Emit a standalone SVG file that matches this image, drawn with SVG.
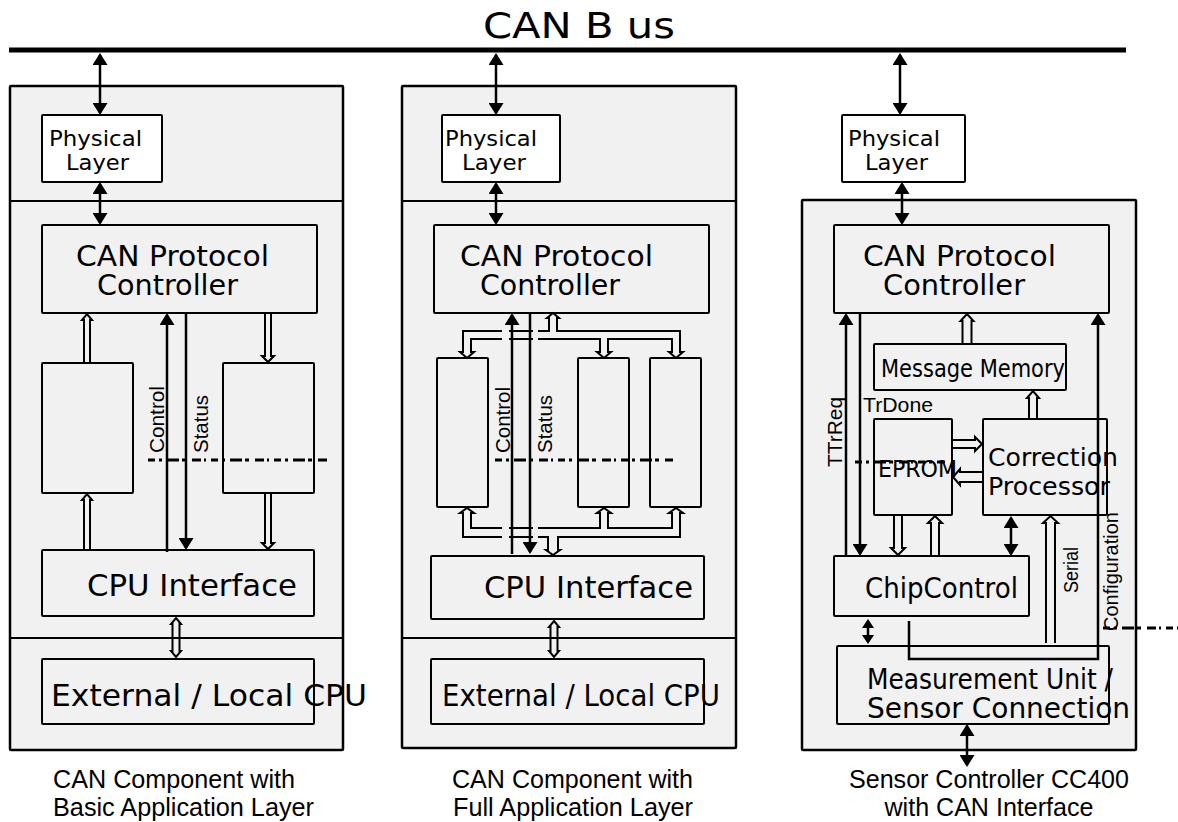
<svg xmlns="http://www.w3.org/2000/svg" width="1178" height="822" viewBox="0 0 1178 822">
<style>
.panel{fill:#f1f1f1;stroke:#000;stroke-width:2.5}
.box{fill:#f1f1f1;stroke:#000;stroke-width:2}
.wbox{fill:#fff;stroke:#000;stroke-width:2}
.div{stroke:#000;stroke-width:2;fill:none}
.t{font-family:"DejaVu Sans",Verdana,sans-serif;fill:#000}
.a{font-family:"Liberation Sans",Arial,sans-serif;fill:#000}
.ln{stroke:#000;stroke-width:2.5;fill:none}
.pipe{stroke:#000;stroke-width:2;fill:none}
.gar{stroke:#000;stroke-width:3;fill:none;stroke-dasharray:7 4 3 5 12 3 4 6 9 3 2 5}
</style>
<defs>
<marker id="ah" viewBox="0 0 12 15" refX="10" refY="7.5" markerWidth="12" markerHeight="15" markerUnits="userSpaceOnUse" orient="auto-start-reverse"><path d="M0,0 L12,7.5 L0,15 z" fill="#000"/></marker>
<marker id="ahs" viewBox="0 0 9 12" refX="7" refY="6" markerWidth="9" markerHeight="12" markerUnits="userSpaceOnUse" orient="auto-start-reverse"><path d="M0,0 L9,6 L0,12 z" fill="#000"/></marker>
</defs>
<rect width="1178" height="822" fill="#fff"/>

<g id="bus">
<line x1="9" y1="50" x2="1126" y2="50" stroke="#000" stroke-width="5"/>
<text class="t" x="483" y="38" font-size="35" textLength="192" lengthAdjust="spacingAndGlyphs">CAN B us</text>
</g>

<!-- Panel 1 -->
<g id="panel1">
<rect class="panel" x="10" y="86" width="333" height="664" rx="1"/>
<line class="div" x1="10" y1="201" x2="342" y2="201"/>
<line class="div" x1="10" y1="638" x2="342" y2="638"/>
</g>
<g id="p1-phys"><rect class="wbox" x="42" y="115" width="120" height="67" rx="1"/>
<text class="t" x="49" y="146" font-size="22" textLength="93" lengthAdjust="spacingAndGlyphs">Physical</text>
<text class="t" x="66" y="170" font-size="22" textLength="63" lengthAdjust="spacingAndGlyphs">Layer</text></g>
<g id="p1-canpc"><rect class="box" x="42" y="225" width="275" height="88" rx="1"/>
<text class="t" x="76" y="266" font-size="29" textLength="193" lengthAdjust="spacingAndGlyphs">CAN Protocol</text>
<text class="t" x="97" y="295" font-size="29" textLength="141" lengthAdjust="spacingAndGlyphs">Controller</text></g>
<g id="p1-buf1"><rect class="box" x="42" y="363" width="91" height="130" rx="1"/></g>
<g id="p1-buf2"><rect class="box" x="223" y="363" width="91" height="130" rx="1"/></g>
<g id="p1-cpuif"><rect class="box" x="42" y="550" width="272" height="66" rx="1"/>
<text class="t" x="87" y="596" font-size="30" textLength="210" lengthAdjust="spacingAndGlyphs">CPU Interface</text></g>
<g id="p1-ext"><rect class="box" x="42" y="659" width="272" height="65" rx="1"/>
<text class="t" x="51" y="706" font-size="31" textLength="316" lengthAdjust="spacingAndGlyphs">External / Local CPU</text></g>
<g id="p1-caption">
<text class="a" x="53" y="788" font-size="25" textLength="242" lengthAdjust="spacingAndGlyphs">CAN Component with</text>
<text class="a" x="53" y="816" font-size="25" textLength="261" lengthAdjust="spacingAndGlyphs">Basic Application Layer</text></g>

<!-- Panel 2 -->
<g id="panel2">
<rect class="panel" x="402" y="86" width="334" height="662" rx="1"/>
<line class="div" x1="402" y1="201" x2="736" y2="201"/>
<line class="div" x1="402" y1="638" x2="736" y2="638"/>
</g>
<g id="p2-phys"><rect class="wbox" x="442" y="115" width="118" height="67" rx="1"/>
<text class="t" x="445" y="146" font-size="22" textLength="92" lengthAdjust="spacingAndGlyphs">Physical</text>
<text class="t" x="462" y="170" font-size="22" textLength="64" lengthAdjust="spacingAndGlyphs">Layer</text></g>
<g id="p2-canpc"><rect class="box" x="434" y="225" width="275" height="88" rx="1"/>
<text class="t" x="460" y="266" font-size="29" textLength="193" lengthAdjust="spacingAndGlyphs">CAN Protocol</text>
<text class="t" x="480" y="295" font-size="29" textLength="140" lengthAdjust="spacingAndGlyphs">Controller</text></g>
<g id="p2-buf1"><rect class="box" x="437" y="358" width="51" height="149" rx="1"/></g>
<g id="p2-buf2"><rect class="box" x="578" y="358" width="51" height="149" rx="1"/></g>
<g id="p2-buf3"><rect class="box" x="650" y="358" width="51" height="149" rx="1"/></g>
<g id="p2-cpuif"><rect class="box" x="431" y="556" width="273" height="63" rx="1"/>
<text class="t" x="484" y="598" font-size="30" textLength="209" lengthAdjust="spacingAndGlyphs">CPU Interface</text></g>
<g id="p2-ext"><rect class="box" x="431" y="659" width="273" height="65" rx="1"/>
<text class="t" x="442" y="706" font-size="31" textLength="278" lengthAdjust="spacingAndGlyphs">External / Local CPU</text></g>
<g id="p2-caption">
<text class="a" x="452" y="788" font-size="25" textLength="241" lengthAdjust="spacingAndGlyphs">CAN Component with</text>
<text class="a" x="453" y="816" font-size="25" textLength="240" lengthAdjust="spacingAndGlyphs">Full Application Layer</text></g>

<!-- Panel 3 -->
<g id="panel3">
<rect class="panel" x="802" y="200" width="334" height="550" rx="1"/>
</g>
<g id="p3-phys"><rect class="wbox" x="842" y="115" width="123" height="67" rx="1"/>
<text class="t" x="848" y="146" font-size="22" textLength="92" lengthAdjust="spacingAndGlyphs">Physical</text>
<text class="t" x="865" y="170" font-size="22" textLength="63" lengthAdjust="spacingAndGlyphs">Layer</text></g>
<g id="p3-canpc"><rect class="box" x="834" y="225" width="275" height="88" rx="1"/>
<text class="t" x="863" y="266" font-size="29" textLength="193" lengthAdjust="spacingAndGlyphs">CAN Protocol</text>
<text class="t" x="883" y="295" font-size="29" textLength="142" lengthAdjust="spacingAndGlyphs">Controller</text></g>
<g id="p3-msgmem"><rect class="box" x="874" y="344" width="192" height="46" rx="1"/>
<text class="t" x="881" y="377" font-size="24" textLength="184" lengthAdjust="spacingAndGlyphs">Message Memory</text></g>
<g id="p3-eprom"><rect class="box" x="874" y="419" width="78" height="96" rx="1"/>
<text class="t" x="878" y="477" font-size="23" textLength="79" lengthAdjust="spacingAndGlyphs">EPROM</text></g>
<g id="p3-corr"><rect class="box" x="983" y="419" width="124" height="96" rx="1"/>
<text class="t" x="988" y="466" font-size="25" textLength="130" lengthAdjust="spacingAndGlyphs">Correction</text>
<text class="t" x="988" y="495" font-size="25" textLength="122" lengthAdjust="spacingAndGlyphs">Processor</text></g>
<g id="p3-chip"><rect class="box" x="834" y="556" width="195" height="60" rx="1"/>
<text class="t" x="865" y="598" font-size="29" textLength="153" lengthAdjust="spacingAndGlyphs">ChipControl</text></g>
<g id="p3-meas"><rect class="box" x="837" y="646" width="272" height="78" rx="1"/>
<text class="t" x="867" y="689" font-size="28" textLength="246" lengthAdjust="spacingAndGlyphs">Measurement Unit /</text>
<text class="t" x="867" y="718" font-size="28" textLength="263" lengthAdjust="spacingAndGlyphs">Sensor Connection</text></g>
<g id="p3-caption">
<text class="a" x="989" y="788" font-size="25" text-anchor="middle" textLength="280" lengthAdjust="spacingAndGlyphs">Sensor Controller CC400</text>
<text class="a" x="989" y="816" font-size="25" text-anchor="middle" textLength="209" lengthAdjust="spacingAndGlyphs">with CAN Interface</text></g>

<g id="connectors">
<!-- panel 1 -->
<line class="ln" x1="100" y1="55" x2="100" y2="113" marker-start="url(#ah)" marker-end="url(#ah)"/>
<line class="ln" x1="100" y1="184" x2="100" y2="223" marker-start="url(#ah)" marker-end="url(#ah)"/>
<line class="ln" x1="167" y1="552" x2="167" y2="315" marker-end="url(#ah)"/>
<line class="ln" x1="186" y1="313" x2="186" y2="548" marker-end="url(#ah)"/>
<path class="pipe" d="M84,363 V320 H82 L87,314 L92,320 H90 V363"/>
<path class="pipe" d="M84,550 V500 H82 L87,494 L92,500 H90 V550"/>
<path class="pipe" d="M265,313 V356 H262 L268,362 L274,356 H271 V313"/>
<path class="pipe" d="M265,493 V543 H262 L268,549 L274,543 H271 V493"/>
<path class="pipe" d="M176,618 L181,624 H179.5 V651 H181 L176,657 L171,651 H172.5 V624 H171 Z"/>
<path class="gar" d="M148,460 H330"/>
<text class="a" transform="translate(164,453) rotate(-90)" font-size="20" textLength="67" lengthAdjust="spacingAndGlyphs">Control</text>
<text class="a" transform="translate(208,453) rotate(-90)" font-size="20" textLength="58" lengthAdjust="spacingAndGlyphs">Status</text>

<!-- panel 2 -->
<line class="ln" x1="496" y1="55" x2="496" y2="113" marker-start="url(#ah)" marker-end="url(#ah)"/>
<line class="ln" x1="496" y1="184" x2="496" y2="223" marker-start="url(#ah)" marker-end="url(#ah)"/>
<line class="ln" x1="512" y1="554" x2="512" y2="315" marker-end="url(#ah)"/>
<line class="ln" x1="530" y1="313" x2="530" y2="552" marker-end="url(#ah)"/>
<path class="pipe" d="M502,339 H471 V352 H474 L467,358 L460,352 H463 V331 H502"/>
<path class="pipe" d="M509,331 H533 M509,339 H533"/>
<path class="pipe" d="M538,331 H549 V318 H547 L553,313 L559,318 H557 V331 H680 V352 H683 L676,358 L669,352 H672 V339 H608 V352 H611 L604,358 L597,352 H600 V339 H538"/>
<path class="pipe" d="M502,537 H463 V513 H460 L467,508 L474,513 H471 V528 H502"/>
<path class="pipe" d="M509,528 H533 M509,537 H533"/>
<path class="pipe" d="M538,528 H600 V513 H597 L604,508 L611,513 H608 V528 H672 V513 H669 L676,508 L683,513 H680 V537 H558 V550 H560 L553,555 L546,550 H548 V537 H538"/>
<path class="pipe" d="M554,621 L559,627 H557.5 V651 H559 L554,657 L549,651 H550.5 V627 H549 Z"/>
<path class="gar" d="M495,460 H673"/>
<text class="a" transform="translate(510,453) rotate(-90)" font-size="20" textLength="66" lengthAdjust="spacingAndGlyphs">Control</text>
<text class="a" transform="translate(552,453) rotate(-90)" font-size="20" textLength="58" lengthAdjust="spacingAndGlyphs">Status</text>

<!-- panel 3 -->
<line class="ln" x1="900" y1="55" x2="900" y2="113" marker-start="url(#ah)" marker-end="url(#ah)"/>
<line class="ln" x1="902" y1="184" x2="902" y2="223" marker-start="url(#ah)" marker-end="url(#ah)"/>
<line class="ln" x1="846" y1="556" x2="846" y2="315" marker-end="url(#ah)"/>
<line class="ln" x1="860" y1="313" x2="860" y2="554" marker-end="url(#ah)"/>
<path class="ln" d="M909,621 V659 H1098 V315" marker-end="url(#ah)"/>
<line class="ln" x1="1011" y1="518" x2="1011" y2="554" marker-start="url(#ah)" marker-end="url(#ah)"/>
<line class="ln" x1="868" y1="621" x2="868" y2="642" marker-start="url(#ahs)" marker-end="url(#ahs)"/>
<line class="ln" x1="967" y1="726" x2="967" y2="765" marker-start="url(#ah)" marker-end="url(#ah)"/>
<path class="pipe" d="M962.5,344 V321 H960.5 L967,314 L973.5,321 H971.5 V344"/>
<path class="pipe" d="M1029,419 V398 H1027 L1033,391 L1039,398 H1037 V419"/>
<path class="pipe" d="M952,440 H975 V437 L982,444 L975,451 V448 H952"/>
<path class="pipe" d="M983,472 H960 V469 L953,477 L960,485 V482 H983"/>
<path class="pipe" d="M894,515 V548 H891 L898,555 L905,548 H902 V515"/>
<path class="pipe" d="M931,556 V523 H928 L935,516 L942,523 H939 V556"/>
<path class="pipe" d="M1046,643 V523 H1043 L1050.5,516 L1058,523 H1055 V643"/>
<path class="gar" d="M855,462 H945"/>
<path class="gar" d="M1103,628 H1178"/>
<text class="a" x="863" y="412" font-size="20" textLength="70" lengthAdjust="spacingAndGlyphs">TrDone</text>
<text class="a" transform="translate(842,467) rotate(-90)" font-size="20" textLength="70" lengthAdjust="spacingAndGlyphs">TTrReq</text>
<text class="a" transform="translate(1078,593) rotate(-90)" font-size="20" textLength="46" lengthAdjust="spacingAndGlyphs">Serial</text>
<text class="a" transform="translate(1118,631) rotate(-90)" font-size="20" textLength="119" lengthAdjust="spacingAndGlyphs">Configuration</text>
</g>
</svg>
